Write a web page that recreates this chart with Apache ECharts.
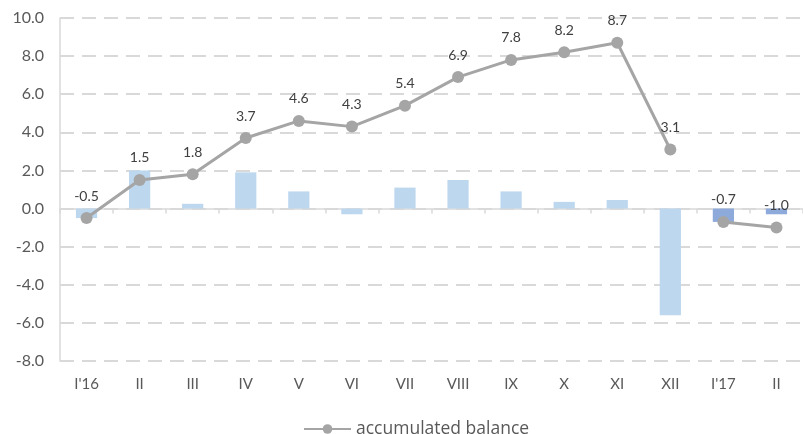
<!DOCTYPE html>
<html>
<head>
<meta charset="utf-8">
<script src="https://cdn.jsdelivr.net/npm/echarts@6/dist/echarts.min.js"></script>
<style>
  html, body { margin: 0; padding: 0; background: #ffffff; }
  #chart { width: 803px; height: 434px; }
</style>
</head>
<body>
<div id="chart"></div>
<script>
// Month labels
const months = ["I'16", "II", "III", "IV", "V", "VI", "VII", "VIII", "IX", "X", "XI", "XII", "I'17", "II"];

// Monthly balance (bars): 2016 months, then 2017 months
const monthly2016 = [-0.5, 2.0, 0.25, 1.9, 0.9, -0.3, 1.1, 1.5, 0.9, 0.35, 0.45, -5.6, null, null];
const monthly2017 = [null, null, null, null, null, null, null, null, null, null, null, null, -0.7, -0.3];

// Accumulated balance since the start of each year
const accum2016 = [-0.5, 1.5, 1.8, 3.7, 4.6, 4.3, 5.4, 6.9, 7.8, 8.2, 8.7, 3.1, null, null];
const accum2017 = [null, null, null, null, null, null, null, null, null, null, null, null, -0.7, -1.0];

// Value axis range
const yMin = -8, yMax = 10, yStep = 2;

const textColor = '#595959';
const gridColor = '#d9d9d9';
const fontFamily = "Lato, 'Open Sans', sans-serif";

const lineLabel = {
  show: true,
  position: 'top',
  distance: 9,
  color: '#404040',
  fontSize: 14,
  fontFamily: fontFamily,
  formatter: p => p.value == null ? '' : Number(p.value).toFixed(1)
};

const lineStyleCommon = {
  type: 'line',
  name: 'accumulated balance',
  xAxisIndex: 0,
  symbol: 'circle',
  symbolSize: 12,
  connectNulls: false,
  itemStyle: { color: '#a5a5a5' },
  lineStyle: { color: '#a5a5a5', width: 3 },
  label: lineLabel,
  z: 5
};

const chart = echarts.init(document.getElementById('chart'), null, { renderer: 'canvas' });
chart.setOption({
  animation: false,
  backgroundColor: '#ffffff',
  textStyle: { fontFamily: fontFamily },
  grid: { left: 60, right: -2, top: 18, bottom: 73, containLabel: false },
  legend: {
    top: 415,
    left: 298,
    data: ['accumulated balance'],
    itemWidth: 47,
    itemHeight: 12,
    itemGap: 8,
    textStyle: { color: textColor, fontSize: 17.5, fontFamily: "'Open Sans', sans-serif" }
  },
  xAxis: [
    {
      type: 'category',
      data: months,
      position: 'bottom',
      axisLine: { show: false, onZero: false },
      axisTick: { show: false },
      axisLabel: { color: textColor, fontSize: 15, margin: 16, fontFamily: fontFamily },
      splitLine: { show: false }
    },
    {
      type: 'category',
      data: months,
      position: 'top',
      axisLine: { show: true, onZero: true, lineStyle: { color: gridColor, width: 1.5 } },
      axisTick: { show: true, inside: true, length: 5, lineStyle: { color: gridColor, width: 1.5 } },
      axisLabel: { show: false },
      splitLine: { show: false }
    }
  ],
  yAxis: {
    type: 'value',
    min: yMin,
    max: yMax,
    interval: yStep,
    axisLine: { show: true, lineStyle: { color: gridColor, width: 1.5 } },
    axisTick: { show: false },
    axisLabel: {
      color: textColor,
      fontSize: 16,
      margin: 16,
      fontFamily: fontFamily,
      formatter: v => v.toFixed(1)
    },
    splitLine: { show: true, lineStyle: { color: gridColor, width: 2, type: [14, 8] } }
  },
  series: [
    {
      type: 'bar',
      name: 'monthly 2016',
      xAxisIndex: 0,
      data: monthly2016,
      barWidth: '40%',
      barGap: '-100%',
      itemStyle: { color: '#bdd7ee' },
      z: 2
    },
    {
      type: 'bar',
      name: 'monthly 2017',
      xAxisIndex: 0,
      data: monthly2017,
      barWidth: '40%',
      barGap: '-100%',
      itemStyle: { color: '#8eaadb' },
      z: 2
    },
    Object.assign({}, lineStyleCommon, { data: accum2016 }),
    Object.assign({}, lineStyleCommon, { data: accum2017 })
  ]
});
</script>
</body>
</html>
